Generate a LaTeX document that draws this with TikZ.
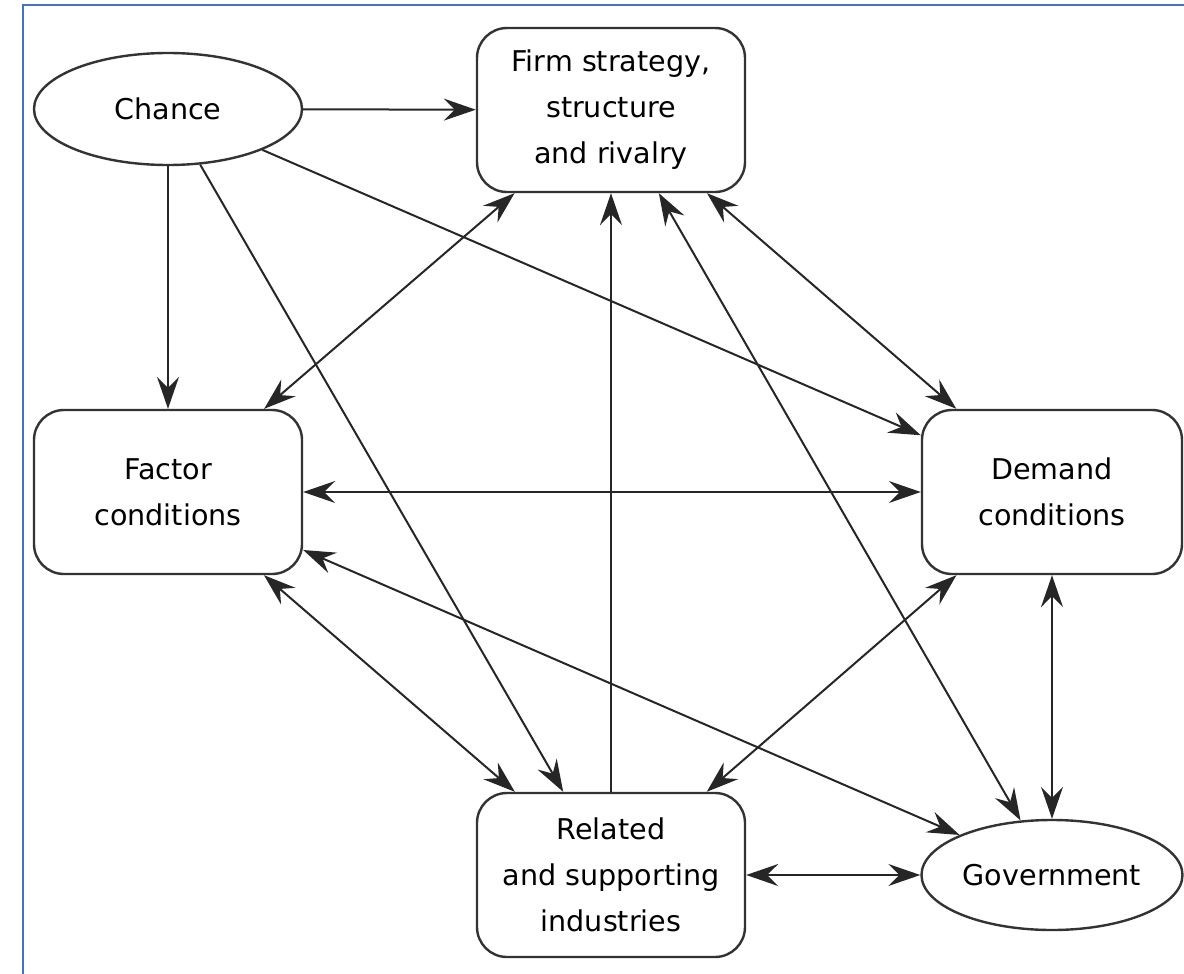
\documentclass[tikz,border=0pt]{standalone}
\usepackage{fontspec}
\setmainfont{DejaVu Sans}
\usetikzlibrary{shapes.geometric,arrows.meta}
\definecolor{framecol}{HTML}{4472C4}

\begin{document}
\begin{tikzpicture}[x=1pt,y=-1pt,>={Stealth[length=32pt,width=22pt,inset=11pt]},
  label/.style={align=center,font=\fontsize{28.6}{46}\selectfont},
  determinant/.style={label,draw=black!80,line width=2.4pt,rounded corners=30pt,minimum width=268pt,minimum height=164pt},
  outside/.style={label,draw=black!80,line width=2.4pt,ellipse,inner sep=0pt,minimum width=268pt,minimum height=112pt},
  link/.style={draw=black!85,line width=2pt}]
\useasboundingbox (0,0) rectangle (1184,974);
%frame of the scan, only top and left are seen
\draw[framecol,line width=2.5pt] (23,974)--(23,5)--(1184,5);

\node[outside] (chance) at (168,109) {Chance};
\node[determinant] (firm) at (611,110) {Firm strategy,\\structure\\and rivalry};
\node[determinant] (factor) at (168,492) {Factor\\conditions};
\node[determinant,minimum width=260pt] (demand) at (1052,492) {Demand\\conditions};
\node[determinant] (related) at (611,875) {Related\\and supporting\\industries};
\node[outside,minimum width=261pt,minimum height=110pt] (gov) at (1052,875) {Government};

%chance only points outwards
\draw[link,->] (chance)--(firm);
\draw[link,->] (chance)--(factor);
\draw[link,->] (chance)--(related);
\draw[link,->] (chance)--(demand);
\draw[link,->] (related)--(firm);
%the diamond
\draw[link,<->] (firm)--(factor);
\draw[link,<->] (firm)--(demand);
\draw[link,<->] (factor)--(related);
\draw[link,<->] (demand)--(related);
\draw[link,<->] (factor)--(demand);
%government
\draw[link,<->] (firm)--(gov);
\draw[link,<->] (factor)--(gov);
\draw[link,<->] (demand)--(gov);
\draw[link,<->] (related)--(gov);
\end{tikzpicture}
\end{document}
